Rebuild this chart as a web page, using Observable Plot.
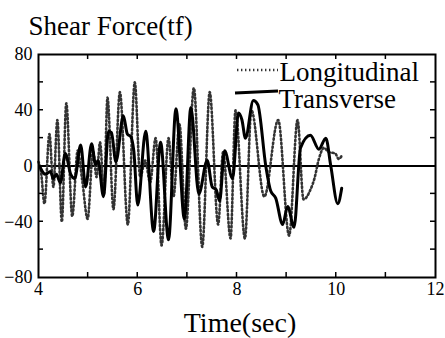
<!DOCTYPE html>
<html>
<head>
<meta charset="utf-8">
<script src="https://cdn.jsdelivr.net/npm/d3@7"></script>
<script src="https://cdn.jsdelivr.net/npm/@observablehq/plot@0.6"></script>
<style>
  html, body { margin: 0; padding: 0; background: white; }
</style>
</head>
<body>
<div id="chart"></div>
<script>
// Longitudinal (dotted)
const longTime = [4.00, 4.05, 4.12, 4.22, 4.30, 4.38, 4.47, 4.56, 4.68, 4.79, 4.88, 4.99, 5.10, 5.17, 5.24, 5.32, 5.39, 5.51, 5.64, 5.80, 5.94, 6.05, 6.15, 6.25, 6.36, 6.48, 6.62, 6.72, 6.84, 6.97, 7.13, 7.30, 7.45, 7.62, 7.72, 7.87, 7.97, 8.16, 8.29, 8.55, 8.83, 9.05, 9.22, 9.34, 9.48, 9.56, 9.65, 9.75, 9.85, 9.98, 10.05, 10.12];
const longForce = [3, -4, -27, 23, -15, 33, -40, 45, -36, 11, -10, -38, 11, -8, 17, -20, 49, -31, 53, -42, 60, -8, 4, -12, 20, -57, 20, -22, 30, -45, 56, -58, 53, -42, 10, -52, 40, -52, 40, -22, 33, -50, 33, -24, -17, -9, 5, 13, 10, 9, 5, 8];
// Transverse (solid)
const transTime = [4.02, 4.14, 4.24, 4.30, 4.36, 4.44, 4.54, 4.65, 4.73, 4.85, 4.95, 5.07, 5.15, 5.20, 5.31, 5.41, 5.47, 5.56, 5.71, 5.79, 5.86, 5.92, 6.00, 6.16, 6.32, 6.46, 6.62, 6.77, 6.94, 7.07, 7.23, 7.40, 7.50, 7.58, 7.65, 7.75, 7.91, 8.03, 8.10, 8.17, 8.33, 8.42, 8.58, 8.68, 8.78, 8.92, 9.02, 9.15, 9.28, 9.48, 9.65, 9.79, 9.89, 10.03, 10.11];
const transForce = [0, -6, -4, -9, -6, -12, 9, -6, -9, 15, -15, 16, 1, 4, -22, 25, 24, 3, 36, 23, 21, 11, -28, 25, -47, 17, -53, 41, -38, 42, -20, 4, -15, -17, -25, 11, -9, 38, 33, 20, 47, 44, 0, -18, -23, -42, -29, -44, 13, 22, 12, 20, 0, -27, -16];

const xTicks = [4, 6, 8, 10, 12];
const yTicks = [-80, -40, 0, 40, 80];
const xMinorTicks = [5, 6, 7, 8, 9, 10, 11];
const yMinorTicks = [-60, -40, -20, 20, 40, 60];
const seriesNames = ["Longitudinal", "Transverse"];
const titleText = "Shear Force(tf)";
const xLabelText = "Time(sec)";

const longData = longTime.map((t, i) => ({t, v: longForce[i]}));
const transData = transTime.map((t, i) => ({t, v: transForce[i]}));

const tickLen = 5;
const dotStyle = {stroke: "#333", strokeWidth: 2.6, strokeDasharray: "1.4 2.6"};
const solidStyle = {stroke: "black", strokeWidth: 3};

// inward ticks on all four sides of the frame, positioned by Plot's scales
function innerTicks(index, scales, values, dims) {
  const g = d3.create("svg:g").attr("stroke", "black").attr("stroke-width", 1.5);
  const left = dims.marginLeft, right = dims.width - dims.marginRight;
  const top = dims.marginTop, bottom = dims.height - dims.marginBottom;
  for (const v of xMinorTicks) {
    const x = scales.x(v);
    g.append("line").attr("x1", x).attr("x2", x).attr("y1", bottom).attr("y2", bottom - tickLen);
    g.append("line").attr("x1", x).attr("x2", x).attr("y1", top).attr("y2", top + tickLen);
  }
  for (const v of yMinorTicks) {
    const y = scales.y(v);
    g.append("line").attr("y1", y).attr("y2", y).attr("x1", left).attr("x2", left + tickLen);
    g.append("line").attr("y1", y).attr("y2", y).attr("x1", right).attr("x2", right - tickLen);
  }
  return g.node();
}

function legendSwatches(index, scales, values, dims) {
  const g = d3.create("svg:g");
  const x0 = dims.marginLeft, y0 = dims.marginTop;
  g.append("line").attr("x1", x0 + 199).attr("x2", x0 + 240).attr("y1", y0 + 16).attr("y2", y0 + 16)
    .attr("stroke", dotStyle.stroke).attr("stroke-width", dotStyle.strokeWidth).attr("stroke-dasharray", dotStyle.strokeDasharray);
  g.append("line").attr("x1", x0 + 197).attr("x2", x0 + 240).attr("y1", y0 + 39).attr("y2", y0 + 37)
    .attr("stroke", solidStyle.stroke).attr("stroke-width", solidStyle.strokeWidth);
  return g.node();
}

const chart = Plot.plot({
  width: 445,
  height: 338,
  marginLeft: 38,
  marginRight: 10,
  marginTop: 54,
  marginBottom: 61,
  style: {fontFamily: "'Liberation Serif', 'Times New Roman', serif", fontSize: "18px", background: "white", color: "black"},
  x: {domain: [4, 12]},
  y: {domain: [-80, 80]},
  marks: [
    Plot.ruleY([0], {stroke: "black", strokeWidth: 2}),
    Plot.line(longData, {x: "t", y: "v", curve: "monotone-x", ...dotStyle}),
    Plot.line(transData, {x: "t", y: "v", curve: "monotone-x", ...solidStyle}),
    innerTicks,
    Plot.frame({stroke: "black", strokeWidth: 2}),
    Plot.axisX({ticks: xTicks, tickSize: 0, tickPadding: 5, label: null, fontSize: 18}),
    Plot.axisY({ticks: yTicks, tickSize: 0, tickPadding: 6, label: null, fontSize: 18}),
    Plot.text([titleText], {frameAnchor: "top-left", dx: -10, dy: -20, textAnchor: "start", lineAnchor: "bottom", fontSize: 27, fill: "black"}),
    Plot.text([xLabelText], {frameAnchor: "bottom", dx: 3, dy: 54, lineAnchor: "bottom", fontSize: 28, fill: "black"}),
    Plot.text([seriesNames[0]], {frameAnchor: "top-left", dx: 241, dy: 26, textAnchor: "start", lineAnchor: "bottom", fontSize: 27, fill: "black"}),
    Plot.text([seriesNames[1]], {frameAnchor: "top-left", dx: 240, dy: 53, textAnchor: "start", lineAnchor: "bottom", fontSize: 27, fill: "black"}),
    legendSwatches
  ]
});
document.getElementById("chart").appendChild(chart);
</script>
</body>
</html>
